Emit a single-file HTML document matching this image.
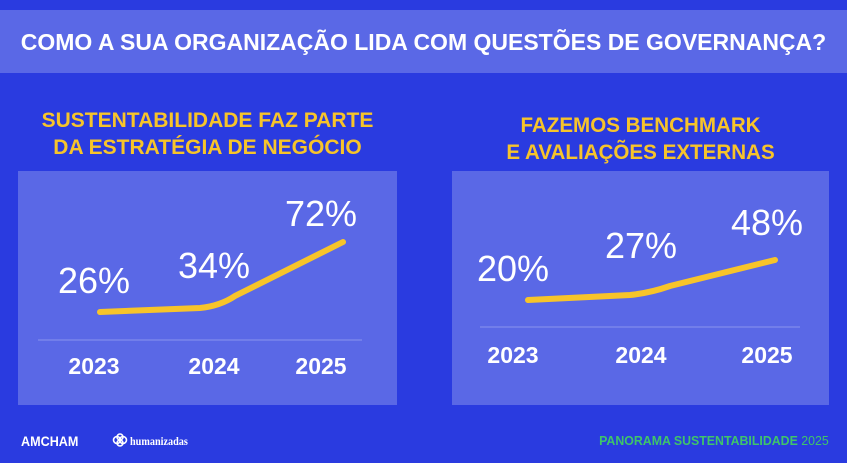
<!DOCTYPE html>
<html><head><meta charset="utf-8"><style>
body{margin:0;width:847px;height:463px;background:#2a3be0;overflow:hidden;font-family:"Liberation Sans",sans-serif;position:relative}
.band{position:absolute;left:0;top:10px;width:847px;height:63px;background:#5a68e6}
.t{position:absolute;white-space:nowrap;font-weight:bold}
.panel{position:absolute;background:#5a68e6}
</style></head><body>
<div class="band"></div>
<div class="t" style="left:0;width:847px;text-align:center;top:29px;color:#fff;font-size:23px;transform:scaleX(1.0)">COMO A SUA ORGANIZAÇÃO LIDA COM QUESTÕES DE GOVERNANÇA?</div>
<div class="t" style="left:18px;width:379px;text-align:center;top:107px;color:#f7c42a;font-size:21px;line-height:27px;transform:scaleX(1.0)">SUSTENTABILIDADE FAZ PARTE<br>DA ESTRATÉGIA DE NEGÓCIO</div>
<div class="t" style="left:452px;width:377px;text-align:center;top:112px;color:#f7c42a;font-size:21px;line-height:27px;transform:scaleX(.98)">FAZEMOS BENCHMARK<br>E AVALIAÇÕES EXTERNAS</div>
<div class="panel" style="left:18px;top:171px;width:379px;height:234px"></div>
<div class="panel" style="left:452px;top:171px;width:377px;height:234px"></div>
<svg style="position:absolute;left:0;top:0" width="847" height="463">
<line x1="38" y1="340" x2="362" y2="340" stroke="#8a95ef" stroke-width="1"/>
<line x1="480" y1="327" x2="800" y2="327" stroke="#8a95ef" stroke-width="1"/>
<path d="M100 312 L200 308 Q220 306 235 296 L343 242" fill="none" stroke="#f7c42a" stroke-width="6" stroke-linecap="round"/>
<path d="M528 300 L630 295 Q650 293 670 286 L775 260" fill="none" stroke="#f7c42a" stroke-width="6" stroke-linecap="round"/>
<g fill="#fff" font-family="Liberation Sans,sans-serif" font-size="36" text-anchor="middle">
<text x="94" y="293">26%</text><text x="214" y="278">34%</text><text x="321" y="226">72%</text>
<text x="513" y="281">20%</text><text x="641" y="258">27%</text><text x="767" y="235">48%</text>
</g>
<g fill="#fff" font-family="Liberation Sans,sans-serif" font-size="23" font-weight="bold" text-anchor="middle">
<text x="94" y="374">2023</text><text x="214" y="374">2024</text><text x="321" y="374">2025</text>
<text x="513" y="363">2023</text><text x="641" y="363">2024</text><text x="767" y="363">2025</text>
</g>
<g fill="none" stroke="#fff" stroke-width="1.6"><circle cx="117" cy="440" r="3.5"/><circle cx="123" cy="440" r="3.5"/><circle cx="120" cy="437" r="3"/><circle cx="120" cy="443" r="3"/></g>
</svg>
<div class="t" style="left:21px;top:433px;color:#fff;font-size:14px;transform:scaleX(.9);transform-origin:left">AMCHAM</div>
<div class="t" style="left:130px;top:434px;color:#fff;font-size:12px;font-family:'Liberation Serif',serif;transform:scaleX(.85);transform-origin:left">humanizadas</div>
<div class="t" style="right:18px;top:433px;color:#3fc46a;font-size:13px;transform:scaleX(.95);transform-origin:right">PANORAMA SUSTENTABILIDADE <span style="font-weight:normal">2025</span></div>
</body></html>
